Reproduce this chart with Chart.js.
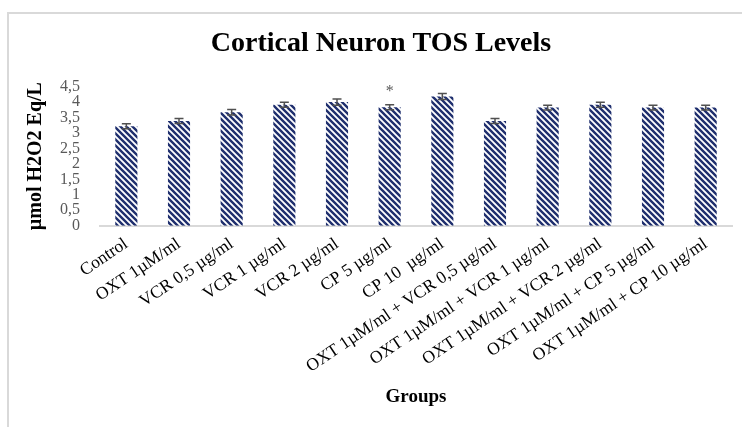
<!DOCTYPE html>
<html>
<head>
<meta charset="utf-8">
<script src="https://cdn.jsdelivr.net/npm/chart.js@4.4.1/dist/chart.umd.min.js"></script>
<style>
  html, body { margin: 0; padding: 0; background: #fff; }
  #wrap { position: relative; width: 742px; height: 427px; }
  #frame { position: absolute; left: 7px; top: 12px; right: 0; bottom: 0;
           border-top: 2px solid #d9d9d9; border-left: 2px solid #d9d9d9; }
  canvas { position: absolute; left: 0; top: 0; }
</style>
</head>
<body>
<div id="wrap">
  <div id="frame"></div>
  <canvas id="ar" width="742" height="427"></canvas>
</div>
<script>
const groups = ['Control', 'OXT 1µM/ml', 'VCR 0,5 µg/ml', 'VCR 1 µg/ml', 'VCR 2 µg/ml', 'CP 5 µg/ml',
  'CP 10  µg/ml', 'OXT 1µM/ml + VCR 0,5 µg/ml', 'OXT 1µM/ml + VCR 1 µg/ml',
  'OXT 1µM/ml + VCR 2 µg/ml', 'OXT 1µM/ml + CP 5 µg/ml', 'OXT 1µM/ml + CP 10 µg/ml'];
const tosValues = [3.22, 3.39, 3.67, 3.91, 4.0, 3.83, 4.18, 3.39, 3.82, 3.91, 3.82, 3.82];
const tosErrors = [0.08, 0.08, 0.09, 0.08, 0.1, 0.08, 0.1, 0.08, 0.08, 0.08, 0.08, 0.08];
const marks = ['', '', '', '', '', '*', '', '', '', '', '', ''];
const yTicks = [0, 0.5, 1, 1.5, 2, 2.5, 3, 3.5, 4, 4.5];

const serif = "'Liberation Serif', 'Times New Roman', serif";

// diagonal hatch like the excel pattern fill
function hatch() {
  const c = document.createElement('canvas');
  c.width = 6; c.height = 6;
  const g = c.getContext('2d');
  g.fillStyle = '#ffffff';
  g.fillRect(0, 0, 6, 6);
  g.strokeStyle = '#1f2f6e';
  g.lineWidth = 2.4;
  g.beginPath();
  g.moveTo(-3, -3); g.lineTo(9, 9);
  g.moveTo(-3, 3); g.lineTo(3, 9);
  g.moveTo(3, -3); g.lineTo(9, 3);
  g.stroke();
  return g.createPattern(c, 'repeat');
}

const errorBars = {
  id: 'errorBars',
  afterDatasetsDraw(chart) {
    const ctx = chart.ctx;
    const y = chart.scales.y;
    const meta = chart.getDatasetMeta(0);
    ctx.save();
    ctx.strokeStyle = '#505050';
    ctx.lineWidth = 1.5;
    meta.data.forEach((bar, i) => {
      const top = y.getPixelForValue(tosValues[i] + tosErrors[i]);
      const bot = y.getPixelForValue(tosValues[i] - tosErrors[i]);
      ctx.beginPath();
      ctx.moveTo(bar.x, top); ctx.lineTo(bar.x, bot);
      ctx.moveTo(bar.x - 4.5, top); ctx.lineTo(bar.x + 4.5, top);
      ctx.moveTo(bar.x - 4.5, bot); ctx.lineTo(bar.x + 4.5, bot);
      ctx.stroke();
      if (marks[i]) {
        ctx.fillStyle = '#595959';
        ctx.font = '16px ' + serif;
        ctx.textAlign = 'center';
        ctx.textBaseline = 'bottom';
        ctx.fillText(marks[i], bar.x, top - 5);
      }
    });
    ctx.restore();
  }
};

const ctx = document.getElementById('ar').getContext('2d');
const chart = new Chart(ctx, {
  type: 'bar',
  data: {
    labels: groups,
    datasets: [{
      data: tosValues,
      backgroundColor: hatch(),
      borderWidth: 0,
      categoryPercentage: 1,
      barPercentage: 0.42
    }]
  },
  options: {
    responsive: false,
    animation: false,
    layout: { padding: { left: 30, right: 10, top: 0, bottom: 15 } },
    scales: {
      x: {
        grid: { display: false },
        border: { display: true, color: '#d9d9d9', width: 2 },
        ticks: {
          color: '#000', font: { family: serif, size: 17.5 },
          minRotation: 34, maxRotation: 34, autoSkip: false, padding: 0
        },
        title: {
          display: true, text: 'Groups', color: '#000',
          font: { family: serif, size: 19, weight: 'bold' }, padding: { top: 8, bottom: 4 }
        }
      },
      y: {
        min: 0, max: 4.5,
        afterBuildTicks: (s) => { s.ticks = yTicks.map(v => ({ value: v })); },
        afterFit: (s) => { s.width = 70; },
        grid: { display: false },
        border: { display: false },
        ticks: {
          color: '#595959', font: { family: serif, size: 16 }, autoSkip: false, padding: 12,
          callback: (v) => String(v).replace('.', ',')
        },
        title: {
          display: true, text: 'µmol H2O2 Eq/L', color: '#000',
          font: { family: serif, size: 20, weight: 'bold' }, padding: { top: -6, bottom: 0 }
        }
      }
    },
    plugins: {
      legend: { display: false },
      tooltip: { enabled: false },
      title: {
        display: true, text: 'Cortical Neuron TOS Levels', color: '#000',
        font: { family: serif, size: 28, weight: 'bold' },
        padding: { top: 27, bottom: 26 }
      }
    }
  },
  plugins: [errorBars]
});

chart.update();
</script>
</body>
</html>
